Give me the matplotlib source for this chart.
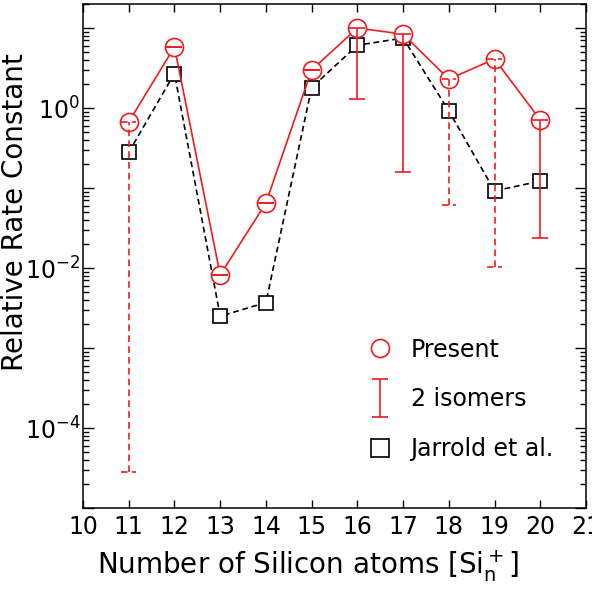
import numpy as np
import matplotlib
matplotlib.use('Agg')
import matplotlib.pyplot as plt
from matplotlib.lines import Line2D
from matplotlib.container import ErrorbarContainer
from matplotlib.legend_handler import HandlerErrorbar
from matplotlib.ticker import LogLocator, FuncFormatter, NullFormatter

# Si_n+ cluster size
n_atoms = np.arange(11, 21)
# present work (circles)
present = np.array([0.67, 5.8, 0.0082, 0.065, 3.0, 10.0, 8.4, 2.3, 4.1, 0.71])
# Jarrold et al. (squares)
jarrold = np.array([0.28, 2.7, 0.0025, 0.0037, 1.8, 6.1, 7.5, 0.92, 0.092, 0.122])
# second isomer value (lower end of the bar)
isomer2 = np.array([2.8e-5, 5.8, 0.0082, 0.065, 3.0, 1.3, 0.16, 0.061, 0.0103, 0.024])
# which bars are dashed
dashed = np.array([True, False, False, False, False, False, False, True, True, False])

red = '#ee1c1c'
lw = 1.2

fig = plt.figure(figsize=(5.92, 5.94), dpi=100)
ax = fig.add_axes([0.1402, 0.1448, 0.8497, 0.8485])

ax.plot(n_atoms, jarrold, ls=(0, (3.5, 2.2)), color='k', lw=lw, marker='s', ms=10,
        mfc='white', mec='k', mew=lw, zorder=2)
ax.plot(n_atoms, present, '-', color=red, lw=lw, marker='o', ms=13,
        mfc='white', mec=red, mew=lw, zorder=3)

s = ~dashed
eb = ax.errorbar(n_atoms[s], present[s], yerr=[present[s] - isomer2[s], np.zeros(s.sum())],
                 fmt='none', ecolor=red, elinewidth=lw, capsize=5.5, capthick=lw, zorder=4)

d = dashed
dash = (0, (4, 2.5))
ax.vlines(n_atoms[d], isomer2[d], present[d], colors=red, linestyles=dash, lw=lw, zorder=4)
cw = 0.16
ax.hlines(present[d], n_atoms[d] - cw, n_atoms[d] + cw, colors=red, linestyles=dash, lw=lw, zorder=4)
ax.hlines(isomer2[d], n_atoms[d] - cw, n_atoms[d] + cw, colors=red, linestyles=dash, lw=lw, zorder=4)

ax.set_yscale('log')
ax.set_ylim(1e-5, 20)
ax.set_xlim(10, 21)
ax.set_xticks(range(10, 22))
ax.yaxis.set_major_locator(LogLocator(base=10, numticks=20))
ax.yaxis.set_minor_locator(LogLocator(base=10, subs=np.arange(2, 10), numticks=20))
ax.yaxis.set_minor_formatter(NullFormatter())


def fmt(v, pos):
    e = int(round(np.log10(v)))
    return '$10^{%d}$' % e if e % 2 == 0 else ''


ax.yaxis.set_major_formatter(FuncFormatter(fmt))

ax.tick_params(which='both', direction='in', top=True, right=True, width=1, labelsize=17)
ax.tick_params(axis='x', which='major', length=6, pad=5)
ax.tick_params(axis='y', which='major', length=8, pad=2)
ax.tick_params(axis='y', which='minor', length=4.5)
for sp in ax.spines.values():
    sp.set_linewidth(1.1)

ax.set_xlabel('Number of Silicon atoms [$\\mathrm{Si_n^+}$]', fontsize=20)
ax.set_ylabel('Relative Rate Constant', fontsize=20)
ax.xaxis.set_label_coords(0.447, -0.079)
ax.yaxis.set_label_coords(-0.107, 0.587)

h1 = Line2D([], [], ls='none', marker='o', ms=13, mfc='none', mec=red, mew=lw)
h3 = Line2D([], [], ls='none', marker='s', ms=13, mfc='none', mec='k', mew=lw)
ax.legend([h1, eb, h3], ['Present', '2 isomers', 'Jarrold et al.'],
          handler_map={ErrorbarContainer: HandlerErrorbar(yerr_size=0.8)},
          loc='upper left', bbox_to_anchor=(0.548, 0.357), frameon=False, fontsize=17,
          handlelength=1.0, handletextpad=0.8, labelspacing=1.1, borderaxespad=0)

fig.savefig('out.png', dpi=100)
